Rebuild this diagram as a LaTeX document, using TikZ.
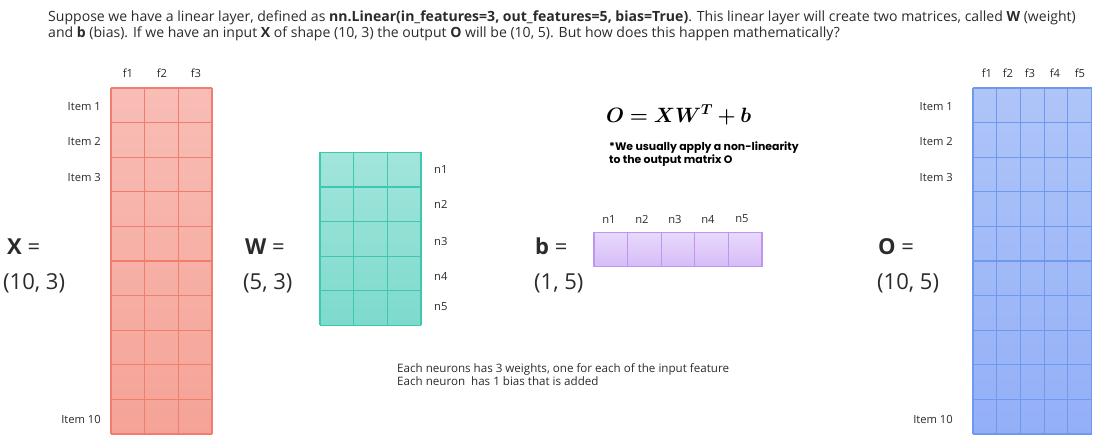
\documentclass[tikz,border=0pt]{standalone}
\usepackage{fontspec}
\usepackage{amsmath,bm}
\setmainfont{Open Sans}
\newfontfamily\popp{Poppins}
\definecolor{txt}{HTML}{2B2B2B}
\definecolor{xt}{HTML}{F8BDB6}\definecolor{xb}{HTML}{F5A396}\definecolor{xs}{HTML}{F07D6D}
\definecolor{wt}{HTML}{A2E5DB}\definecolor{wb}{HTML}{7DDACC}\definecolor{ws}{HTML}{3FC7B3}
\definecolor{bt}{HTML}{E8D9FC}\definecolor{bb}{HTML}{D6BCF7}\definecolor{bs}{HTML}{C194F0}
\definecolor{ot}{HTML}{AFC5F8}\definecolor{ob}{HTML}{93AFF7}\definecolor{os}{HTML}{6D9AEE}
\tikzset{
  hdr/.style={anchor=base west, inner sep=0pt, font=\fontsize{14.05}{16}\selectfont, text=txt},
  lbl/.style={inner sep=0pt, font=\fontsize{11.2}{13}\selectfont, text=txt},
  itm/.style={lbl, anchor=east},
  big/.style={anchor=base west, inner sep=0pt, font=\fontsize{22}{24}\selectfont, text=txt},
  note/.style={anchor=base west, inner sep=0pt, font=\popp\bfseries\fontsize{10.9}{12}\selectfont, text=black},
  small/.style={anchor=base west, inner sep=0pt, font=\fontsize{11.6}{13}\selectfont, text=txt},
}
\begin{document}
\begin{tikzpicture}[x=1pt,y=-1pt]
\useasboundingbox (0,0) rectangle (1095,437);
% header
\node[hdr] (h1) at (48,21.5) {Suppose we have a linear layer, defined as \textbf{nn.Linear(in\_features=3, out\_features=5, bias=True)}. This linear layer will create two matrices, called \textbf{W} (weight)};
\node[hdr] (h2) at (48,37.5) {and \textbf{b} (bias). If we have an input \textbf{X} of shape (10, 3) the output \textbf{O} will be (10, 5). But how does this happen mathematically?};
% X matrix
\fill[top color=xt, bottom color=xb] (111,88) rectangle (212,434);
\draw[xs, line width=1.2] foreach \i in {0,...,3} {(111+33.67*\i,88) -- ++(0,346)}
  foreach \j in {0,...,10} {(111,88+34.6*\j) -- ++(101,0)};
\foreach \k/\c in {1/128,2/162,3/196} \node[lbl] (xf\k) at (\c,73) {f\k};
\node[itm] (xi1) at (101,107) {Item 1};
\node[itm] (xi2) at (101,141) {Item 2};
\node[itm] (xi3) at (101,177) {Item 3};
\node[itm] (xi10) at (101,419) {Item 10};
\node[big] (xl) at (7,254) {\textbf{X} =};
\node[big] (xd) at (3,289) {(10, 3)};
% W matrix
\fill[top color=wt, bottom color=wb] (320,152.3) rectangle (421,325.3);
\draw[ws, line width=1.2] foreach \i in {0,...,3} {(320+33.67*\i,152.3) -- ++(0,173)}
  foreach \j in {0,...,5} {(320,152.3+34.6*\j) -- ++(101,0)};
\foreach \k/\c in {1/169,2/204,3/241,4/276,5/307} \node[lbl, anchor=west] (wn\k) at (434,\c) {n\k};
\node[big] (wl) at (245,254) {\textbf{W} =};
\node[big] (wd) at (243,289) {(5, 3)};
% b vector
\fill[top color=bt, bottom color=bb] (594,232.3) rectangle (762,266.7);
\draw[bs, line width=1.2] foreach \i in {0,...,5} {(594+33.6*\i,232.3) -- ++(0,34.4)}
  (594,232.3) -- ++(168,0) (594,266.7) -- ++(168,0);
\foreach \k/\c in {1/609,2/642,3/675,4/708,5/742} \node[lbl] (bn\k) at (\c,219) {n\k};
\node[big] (bl) at (535,254) {\textbf{b} =};
\node[big] (bd) at (534,289) {(1, 5)};
% equation and notes
\node[anchor=base west, inner sep=0pt, font=\fontsize{20}{24}\selectfont] (eq) at (606,122) {$\boldsymbol{O = XW^{T} + b}$};
\node[note] (n1) at (609,150) {*We usually apply a non-linearity};
\node[note] (n2) at (609,163.5) {to the output matrix O};
\node[small] (s1) at (397,372) {Each neurons has 3 weights, one for each of the input feature};
\node[small] (s2) at (397,385) {Each neuron\ \ has 1 bias that is added};
% O matrix
\fill[top color=ot, bottom color=ob] (973,88) rectangle (1091.5,434);
\draw[os, line width=1.2] foreach \i in {0,...,5} {(973+23.7*\i,88) -- ++(0,346)}
  foreach \j in {0,...,10} {(973,88+34.6*\j) -- ++(118.5,0)};
\foreach \k/\c in {1/987,2/1008,3/1030,4/1055,5/1080} \node[lbl] (of\k) at (\c,73) {f\k};
\node[itm] (oi1) at (953,107) {Item 1};
\node[itm] (oi2) at (953,141) {Item 2};
\node[itm] (oi3) at (953,177) {Item 3};
\node[itm] (oi10) at (953,419) {Item 10};
\node[big] (ol) at (878,254) {\textbf{O} =};
\node[big] (od) at (877,289) {(10, 5)};
\end{tikzpicture}
\end{document}
